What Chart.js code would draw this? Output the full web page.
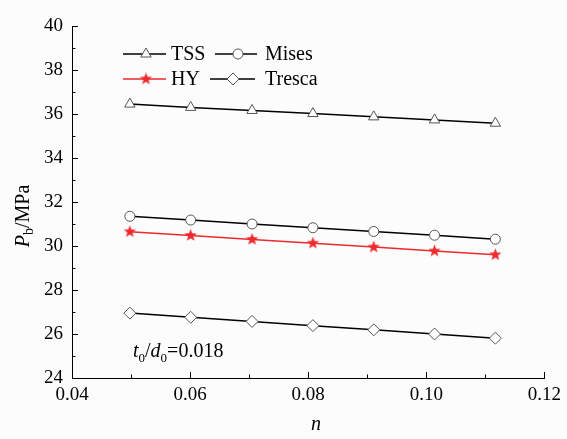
<!DOCTYPE html>
<html><head><meta charset="utf-8">
<script src="https://cdn.jsdelivr.net/npm/chart.js@4"></script>
<style>
html,body{margin:0;padding:0;background:#fcfcfc;}
#fontprobe{position:absolute;left:-1000px;top:0;font-family:"Liberation Serif";font-size:20px;}
#fontprobe i{font-style:italic;}
</style>
</head><body>
<span id="fontprobe">TSS 0.04 <i>n P</i></span>
<canvas id="c" width="567" height="439"></canvas>
<script>
// ---- data ----
const nValues = [0.0498, 0.0601, 0.0705, 0.0808, 0.0911, 0.1014, 0.1117];
const tssValues = [36.45, 36.30, 36.16, 36.02, 35.87, 35.73, 35.58];
const misesValues = [31.35, 31.18, 31.00, 30.83, 30.66, 30.49, 30.31];
const hyValues = [30.65, 30.48, 30.30, 30.13, 29.95, 29.77, 29.60];
const trescaValues = [26.95, 26.76, 26.57, 26.38, 26.19, 26.00, 25.81];
const seriesNames = ['TSS', 'Mises', 'HY', 'Tresca'];
const yTickValues = [24, 26, 28, 30, 32, 34, 36, 38, 40];
const xTickValues = [0.04, 0.06, 0.08, 0.10, 0.12];

const SERIF = "'Liberation Serif', serif";
const RED = '#ee2a2e';
const GRAY = '#555';

function makeStar(r, color) {
  const s = Math.ceil(r * 2 + 2);
  const cv = document.createElement('canvas');
  cv.width = s; cv.height = s;
  const g = cv.getContext('2d');
  g.translate(s / 2, s / 2);
  g.beginPath();
  for (let i = 0; i < 10; i++) {
    const rad = i % 2 === 0 ? r : r * 0.42;
    const a = -Math.PI / 2 + i * Math.PI / 5;
    const px = rad * Math.cos(a), py = rad * Math.sin(a);
    if (i === 0) g.moveTo(px, py); else g.lineTo(px, py);
  }
  g.closePath();
  g.fillStyle = color; g.fill();
  return cv;
}
const starImg = makeStar(6.5, RED);

const toPts = (vals) => vals.map((v, i) => ({x: nValues[i], y: v}));

const styles = [
  {label: seriesNames[0], data: toPts(tssValues), borderColor: '#000', pointStyle: 'triangle', pointRadius: 6, pointBorderColor: GRAY, pointBackgroundColor: '#fff'},
  {label: seriesNames[1], data: toPts(misesValues), borderColor: '#000', pointStyle: 'circle', pointRadius: 5, pointBorderColor: GRAY, pointBackgroundColor: '#fff'},
  {label: seriesNames[2], data: toPts(hyValues), borderColor: RED, pointStyle: starImg, pointRadius: 6.5, pointBorderColor: RED, pointBackgroundColor: RED},
  {label: seriesNames[3], data: toPts(trescaValues), borderColor: '#000', pointStyle: 'rectRot', pointRadius: 6, pointBorderColor: GRAY, pointBackgroundColor: '#fff'}
];
styles.forEach(s => { s.borderWidth = 1.5; s.pointBorderWidth = 1; s.tension = 0; s.fill = false; });

const decorPlugin = {
  id: 'decor',
  afterDraw(chart) {
    const ctx = chart.ctx;
    const xs = chart.scales.x, ys = chart.scales.y;
    const a = chart.chartArea;
    ctx.save();
    ctx.strokeStyle = '#000';
    ctx.lineWidth = 1;
    for (let v = 24; v <= 40; v++) {
      const y = Math.round(ys.getPixelForValue(v)) + 0.5;
      const len = v % 2 === 0 ? 6 : 3.5;
      ctx.beginPath(); ctx.moveTo(a.left, y); ctx.lineTo(a.left + len, y); ctx.stroke();
    }
    for (let k = 4; k <= 12; k++) {
      const x = Math.round(xs.getPixelForValue(k / 100)) + 0.5;
      const len = k % 2 === 0 ? 6 : 3.5;
      ctx.beginPath(); ctx.moveTo(x, a.bottom); ctx.lineTo(x, a.bottom - len); ctx.stroke();
    }
    ctx.fillStyle = '#000';
    ctx.translate(29, 216);
    ctx.rotate(-Math.PI / 2);
    ctx.textBaseline = 'alphabetic';
    const f1 = 'italic 20px ' + SERIF, f2 = '14px ' + SERIF, f3 = '20px ' + SERIF;
    ctx.font = f1; const wP = ctx.measureText('P').width;
    ctx.font = f2; const wb = ctx.measureText('b').width;
    ctx.font = f3; const wr = ctx.measureText('/MPa').width;
    let x0 = -(wP + wb + wr) / 2;
    ctx.font = f1; ctx.fillText('P', x0, 0); x0 += wP;
    ctx.font = f2; ctx.fillText('b', x0, 4); x0 += wb;
    ctx.font = f3; ctx.fillText('/MPa', x0, 0);
    ctx.setTransform(1, 0, 0, 1, 0, 0);
    ctx.font = 'italic 20px ' + SERIF;
    ctx.textAlign = 'center';
    ctx.fillText('n', 316, 430);
    ctx.textAlign = 'left';
    let ax = 133; const ay = 357;
    const parts = [['t', 'italic 20px ' + SERIF, 0], ['0', '13px ' + SERIF, 5], ['/', '20px ' + SERIF, 0], ['d', 'italic 20px ' + SERIF, 0], ['0', '13px ' + SERIF, 5], ['=0.018', '20px ' + SERIF, 0]];
    parts.forEach(p => { ctx.font = p[1]; ctx.fillText(p[0], ax, ay + p[2]); ax += ctx.measureText(p[0]).width; });
    const leg = [
      {ds: 0, x1: 123, x2: 166, cx: 146, tx: 171, y: 54},
      {ds: 1, x1: 215, x2: 257, cx: 238, tx: 265, y: 54},
      {ds: 2, x1: 123, x2: 166, cx: 146, tx: 171, y: 79},
      {ds: 3, x1: 210, x2: 255, cx: 233, tx: 265, y: 79}
    ];
    leg.forEach(L => {
      const d = chart.data.datasets[L.ds];
      ctx.strokeStyle = d.borderColor; ctx.lineWidth = 1.5;
      ctx.beginPath(); ctx.moveTo(L.x1, L.y); ctx.lineTo(L.x2, L.y); ctx.stroke();
      ctx.lineWidth = 1;
      ctx.fillStyle = '#fff'; ctx.strokeStyle = GRAY;
      Chart.helpers.drawPoint(ctx, {pointStyle: d.pointStyle, radius: d.pointRadius, borderWidth: 1, rotation: 0}, L.cx, L.y);
      ctx.fillStyle = '#000';
      ctx.font = '20px ' + SERIF;
      ctx.textBaseline = 'middle';
      ctx.fillText(d.label, L.tx, L.y + 1);
    });
    ctx.restore();
  }
};

function build() {
  new Chart(document.getElementById('c'), {
    type: 'line',
    data: {datasets: styles},
    options: {
      responsive: false,
      animation: false,
      layout: {padding: {left: 0, top: 26, right: 22, bottom: 0}},
      plugins: {legend: {display: false}, tooltip: {enabled: false}},
      scales: {
        x: {
          type: 'linear', min: 0.04, max: 0.12,
          afterFit: s => { s.height = 61; },
          afterBuildTicks: s => { s.ticks = xTickValues.map(v => ({value: v})); },
          grid: {drawOnChartArea: false, drawTicks: false},
          border: {display: true, color: '#000', width: 1},
          ticks: {padding: 6, color: '#000', font: {family: SERIF, size: 19}, maxRotation: 0, callback: v => Number(v).toFixed(2)}
        },
        y: {
          min: 24, max: 40,
          afterFit: s => { s.width = 72; },
          afterBuildTicks: s => { s.ticks = yTickValues.map(v => ({value: v})); },
          grid: {drawOnChartArea: false, drawTicks: false},
          border: {display: true, color: '#000', width: 1},
          ticks: {padding: 9, color: '#000', font: {family: SERIF, size: 19}, callback: v => String(v)}
        }
      }
    },
    plugins: [decorPlugin]
  });
}
Promise.all([
  document.fonts.load("20px 'Liberation Serif'"),
  document.fonts.load("italic 20px 'Liberation Serif'")
]).then(build, build);
</script>
</body></html>
